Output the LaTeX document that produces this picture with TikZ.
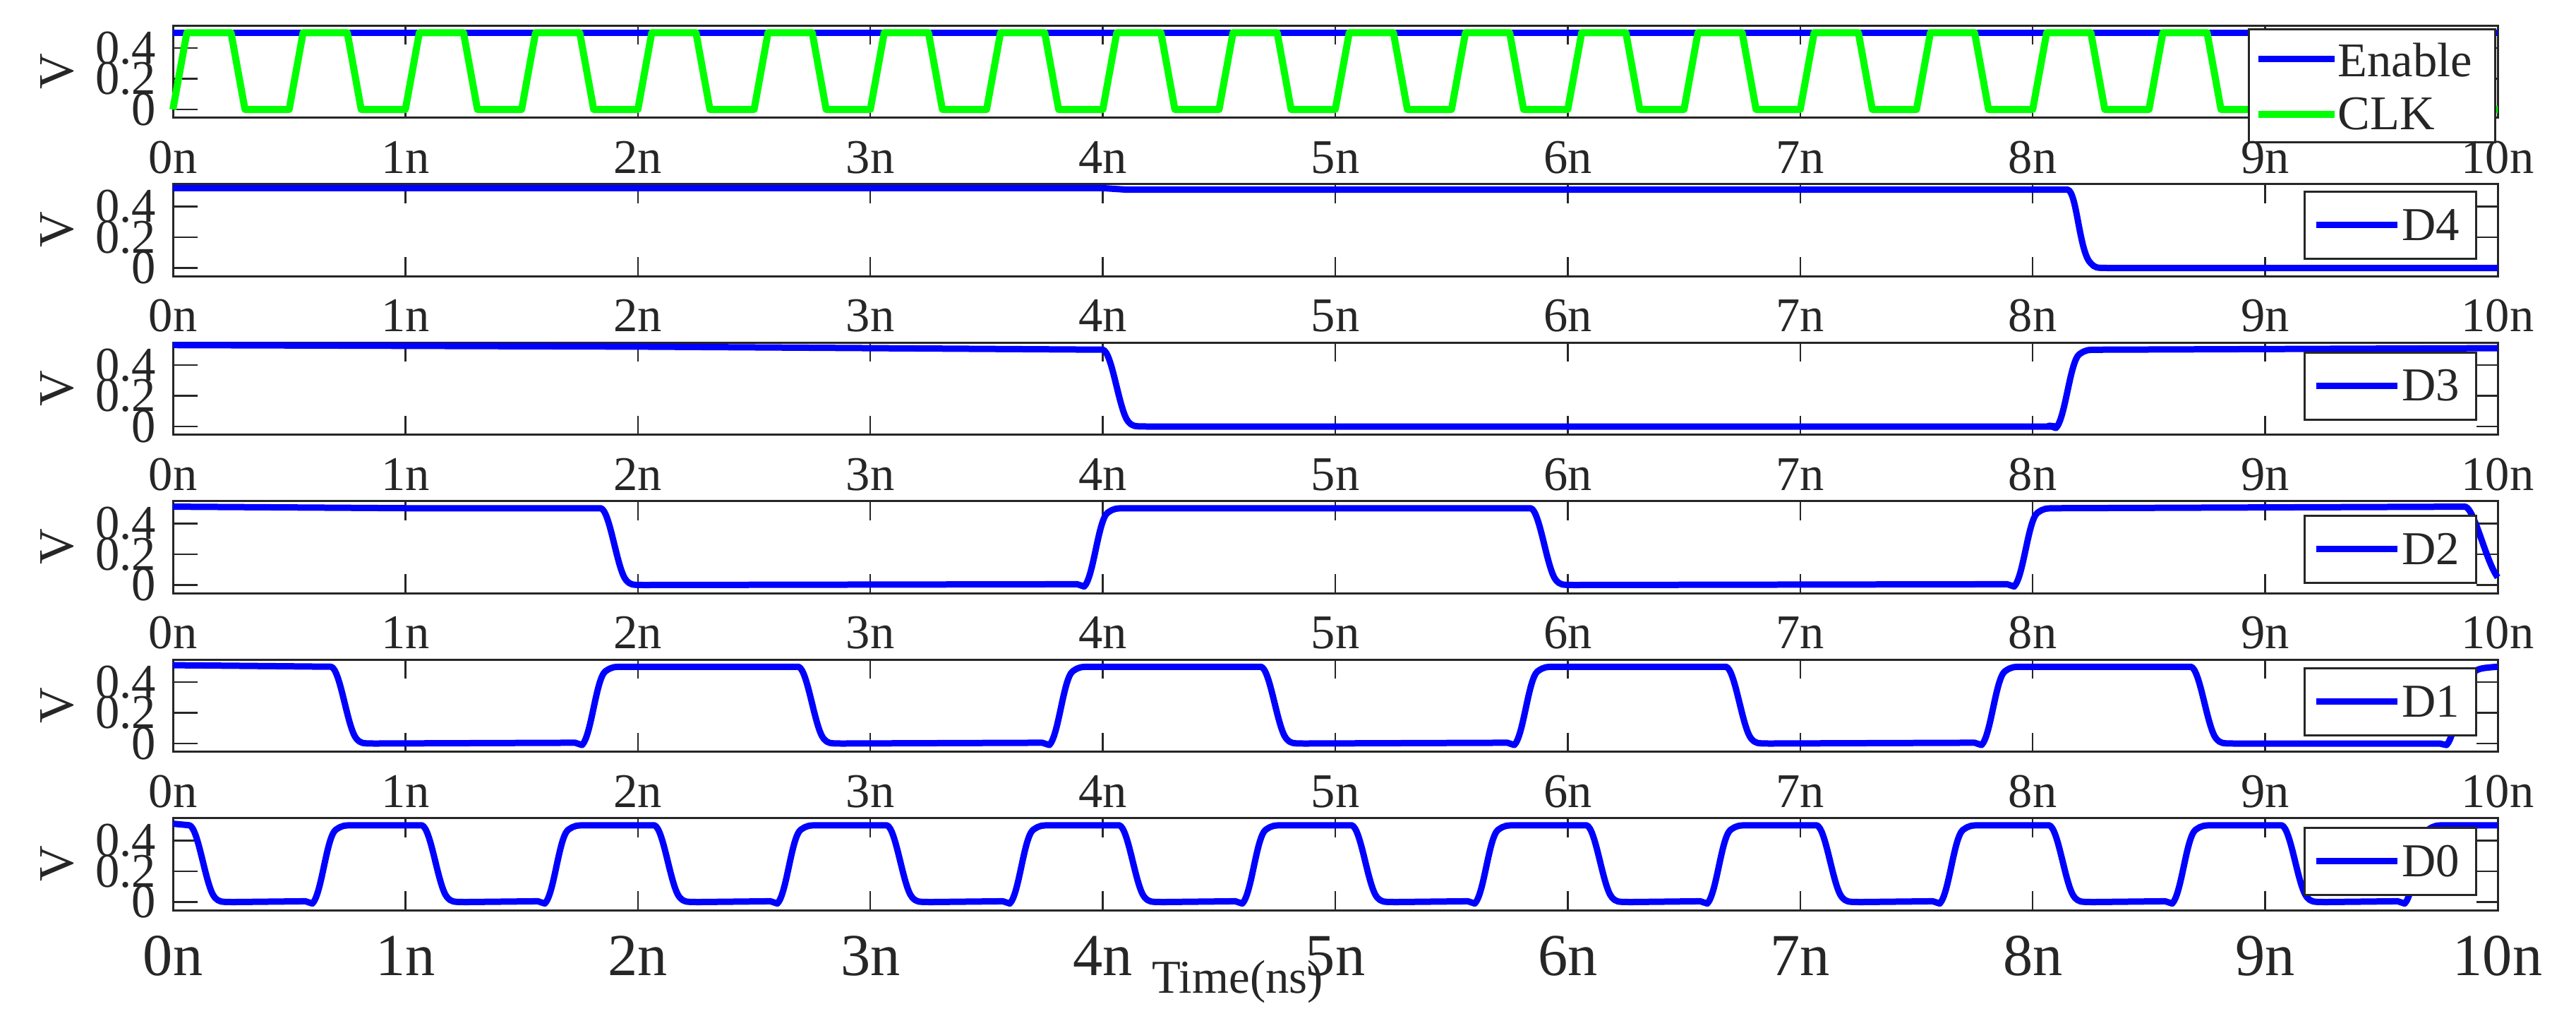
\documentclass[tikz,border=0pt]{standalone}
\usepackage{fontspec}
\setmainfont{Liberation Serif}
\definecolor{ax}{RGB}{38,38,38}
\definecolor{bl}{RGB}{0,0,255}
\definecolor{gr}{RGB}{0,255,0}
\newcommand\wF[1]{ -- (#1,0.5) .. controls ({#1+0.04},0.49) and ({#1+0.07},0.10) .. ({#1+0.11},0.03) .. controls ({#1+0.13},0.0) .. ({#1+0.2},0.0)}
\newcommand\wR[1]{ -- ({#1-0.03},0.005) -- (#1,-0.01) .. controls ({#1+0.04},0.05) and ({#1+0.06},0.42) .. ({#1+0.10},0.47) .. controls ({#1+0.13},0.50) .. ({#1+0.2},0.5)}
\tikzset{
  frame/.style={draw=ax,line width=0.03cm},
  tck/.style={draw=ax,line width=0.025cm},
  wave/.style={draw=bl,line width=0.09cm,line join=round},
  clk/.style={draw=gr,line width=0.1cm,line join=round},
  xl/.style={text=ax,anchor=base,inner sep=0pt,font=\fontsize{19.5}{19.5}\selectfont},
  xlb/.style={text=ax,anchor=base,inner sep=0pt,font=\fontsize{24}{24}\selectfont},
  yl/.style={text=ax,anchor=east,inner sep=0pt,font=\fontsize{19.5}{19.5}\selectfont},
  vl/.style={text=ax,rotate=90,inner sep=0pt,font=\fontsize{20}{20}\selectfont},
  leg/.style={draw=ax,line width=0.03cm,fill=white},
  legt/.style={text=ax,anchor=west,inner sep=0pt,font=\fontsize{19}{19}\selectfont},
}
\newcommand\axes[1]{%
  \draw[frame] (0,-0.055) rectangle (10,0.547);
  \foreach \i in {1,...,9}{\draw[tck] (\i,-0.055) -- (\i,0.07); \draw[tck] (\i,0.547) -- (\i,0.422);}
  \foreach \v in {0,0.2,0.4}{\draw[tck] (0,\v) -- (0.106,\v); \draw[tck] (10,\v) -- (9.91,\v);}
  \node[yl] (y4#1) at (-0.07,0.4) {0.4};
  \node[yl] (y2#1) at (-0.07,0.2) {0.2};
  \node[yl] (y0#1) at (-0.07,0) {0};
  \node[vl] (v#1) at (-0.497,0.248) {V};
}
\newcommand\xlabels[2]{\foreach \i in {0,...,10}{\node[#2] (xl#1\i) at (\i,#1) {\i n};}}
\newcommand\dleg[3]{%
  \draw[leg] (9.17,{0.547-#2/217.5}) rectangle (9.906,{0.547-(#2+95)/217.5});
  \coordinate (la#1) at (9.22,{0.547-(#2+47)/217.5});
  \coordinate (lb#1) at (9.57,{0.547-(#2+47)/217.5});
  \draw[wave] (la#1) -- (lb#1);
  \node[legt] (lt#1) at (9.585,{0.547-(#2+47)/217.5}) {#3};
}
\begin{document}
\begin{tikzpicture}[x=1cm,y=1cm]
\useasboundingbox (0,0) rectangle (36.5,-14.46);
% panel 1
\begin{scope}[shift={(2.45,-1.55)},x=3.294cm,y=2.175cm]
  \axes{a}
  \draw[wave] (0,0.5) -- (10,0.5);
  \draw[clk] (0,0) \foreach \k in {0,...,19}{ -- ({0.5*\k+0.06},0.5) -- ({0.5*\k+0.25},0.5) -- ({0.5*\k+0.31},0) -- ({0.5*\k+0.5},0)};
  \draw[leg] (8.93,0.52) rectangle (9.99,-0.216);
  \draw[wave] (8.97,0.331) -- (9.3,0.331);
  \draw[clk] (8.97,-0.032) -- (9.3,-0.032);
  \node[legt,anchor=base west,font=\fontsize{19.5}{19.5}\selectfont] (en) at (9.31,0.216) {Enable};
  \node[legt,anchor=base west,font=\fontsize{19.5}{19.5}\selectfont] (ck) at (9.31,-0.129) {CLK};
  \xlabels{-0.414}{xl}
\end{scope}
% panel 2 D4
\begin{scope}[shift={(2.45,-3.795)},x=3.294cm,y=2.175cm]
  \axes{b}
  \draw[wave] (0,0.52) -- (4,0.52) -- (4.1,0.51) -- (8.15,0.51)
    .. controls (8.19,0.5) and (8.2,0.1) .. (8.25,0.03) .. controls (8.27,0) .. (8.33,0) -- (10,0);
  \dleg{b}{11}{D4}
  \xlabels{-0.414}{xl}
\end{scope}
% panel 3 D3
\begin{scope}[shift={(2.45,-6.04)},x=3.294cm,y=2.175cm]
  \axes{c}
  \draw[wave] (0,0.53) -- (2,0.52) \wF{4.0} -- (8.1,0) \wR{8.1} -- (10,0.51);
  \dleg{c}{14}{D3}
  \xlabels{-0.414}{xl}
\end{scope}
% panel 4 D2
\begin{scope}[shift={(2.45,-8.285)},x=3.294cm,y=2.175cm]
  \axes{d}
  \draw[wave] (0,0.51) -- (1.0,0.5) \wF{1.84} \wR{3.92} \wF{5.84} \wR{7.92} -- (9.86,0.51)
     .. controls (9.9,0.5) and (9.95,0.15) .. (10,0.05);
  \dleg{d}{21}{D2}
  \xlabels{-0.414}{xl}
\end{scope}
% panel 5 D1
\begin{scope}[shift={(2.45,-10.53)},x=3.294cm,y=2.175cm]
  \axes{e}
  \draw[wave] (0,0.51) \wF{0.68} \wR{1.76} \wF{2.69} \wR{3.77} \wF{4.68} \wR{5.77} \wF{6.68} \wR{7.78} \wF{8.68}
     -- (9.75,0) -- (9.78,-0.01) .. controls (9.82,0.05) and (9.84,0.4) .. (9.88,0.45) .. controls (9.92,0.49) .. (10,0.5);
  \dleg{e}{12}{D1}
  \xlabels{-0.414}{xl}
\end{scope}
% panel 6 D0
\begin{scope}[shift={(2.45,-12.775)},x=3.294cm,y=2.175cm]
  \axes{f}
  \draw[wave] (0,0.51) \wF{0.07} \wR{0.6} \wF{1.07} \wR{1.6} \wF{2.07} \wR{2.6} \wF{3.07} \wR{3.6} \wF{4.07} \wR{4.6}
     \wF{5.07} \wR{5.6} \wF{6.08} \wR{6.6} \wF{7.07} \wR{7.6} \wF{8.07} \wR{8.6} \wF{9.07} \wR{9.6} -- (10,0.5);
  \dleg{f}{14}{D0}
  \xlabels{-0.478}{xlb}
  \node[text=ax,anchor=base,inner sep=0pt,font=\fontsize{19}{19}\selectfont] (tm) at (4.58,-0.595) {Time(ns)};
\end{scope}
\end{tikzpicture}
\end{document}
